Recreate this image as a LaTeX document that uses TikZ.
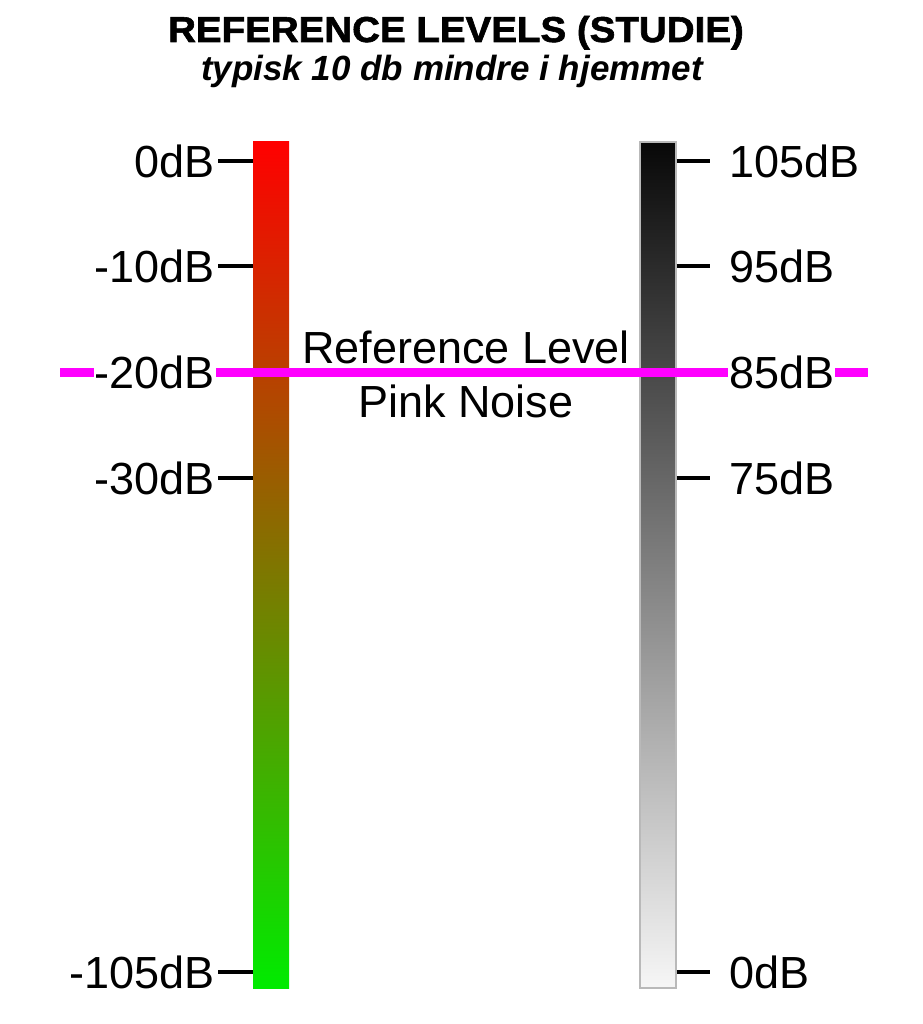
\documentclass[tikz,border=0pt]{standalone}
\usepackage{fontspec}
\setmainfont{Liberation Sans}
\newfontfamily\heavyfont[FakeBold=1.6]{Liberation Sans Bold}
\usepackage{xcolor}
\usepackage{graphicx}
\usepackage{tikz}
\usetikzlibrary{positioning,calc}
\definecolor{meterred}{RGB}{255,0,0}
\definecolor{metergreen}{RGB}{0,235,0}
\definecolor{splblack}{RGB}{8,8,8}
\definecolor{splwhite}{RGB}{246,246,246}
\definecolor{refpink}{RGB}{255,0,255}

\begin{document}
\begin{tikzpicture}[x=1pt,y=-1pt,
      bar/.style={rectangle,inner sep=0pt,minimum width=36pt,minimum height=846pt},
      lvl/.style={inner sep=1pt,fill=white,font=\fontsize{45}{54}\selectfont,text=black},
      tickline/.style={line width=3.5pt,color=black}]
  \useasboundingbox (0,0) rectangle (922,1024);
  % titles
  \node[anchor=base,inner sep=0pt] (title) at (456,42)
    {\fontsize{36}{40}\selectfont\heavyfont\scalebox{1.07}[1]{REFERENCE LEVELS (STUDIE)}};
  \node[anchor=base,inner sep=0pt] (subtitle) at (452,81)
    {\fontsize{35}{40}\selectfont\bfseries\itshape typisk 10 db mindre i hjemmet};
  % the two meters
  \node[bar,top color=meterred,bottom color=metergreen] (dbfs) at (271,565) {};
  \node[bar,top color=splblack,bottom color=splwhite,draw=gray!55,line width=1.2pt] (spl) at (658,565) {};
  % ticks
  \foreach \yy [count=\i] in {161,266,372,478,972}{
    \coordinate (lt\i) at (218,\yy);
    \coordinate (rt\i) at (710,\yy);
    \draw[tickline] (lt\i) -- (lt\i -| dbfs.west);
    \draw[tickline] (spl.east |- rt\i) -- (rt\i);
  }
  % reference level line
  \coordinate (pinkL) at (60,372);
  \coordinate (pinkR) at (868,372);
  \draw[line width=9pt,color=refpink] (pinkL) -- (pinkR);
  % labels
  \foreach \lab/\yy [count=\i] in {0dB/161,-10dB/266,-20dB/372,-30dB/478,-105dB/972}
    \node[lvl,anchor=east] (ll\i) at (216,\yy) {\lab};
  \foreach \lab/\yy [count=\i] in {105dB/161,95dB/266,85dB/372,75dB/478,0dB/972}
    \node[lvl,anchor=west] (rl\i) at (728,\yy) {\lab};
  \node[anchor=base,inner sep=0pt,font=\fontsize{45}{54}\selectfont] (reftxt) at (466,363) {Reference Level};
  \node[anchor=base,inner sep=0pt,font=\fontsize{45}{54}\selectfont] (noisetxt) at (466,417) {Pink Noise};
\end{tikzpicture}
\end{document}
